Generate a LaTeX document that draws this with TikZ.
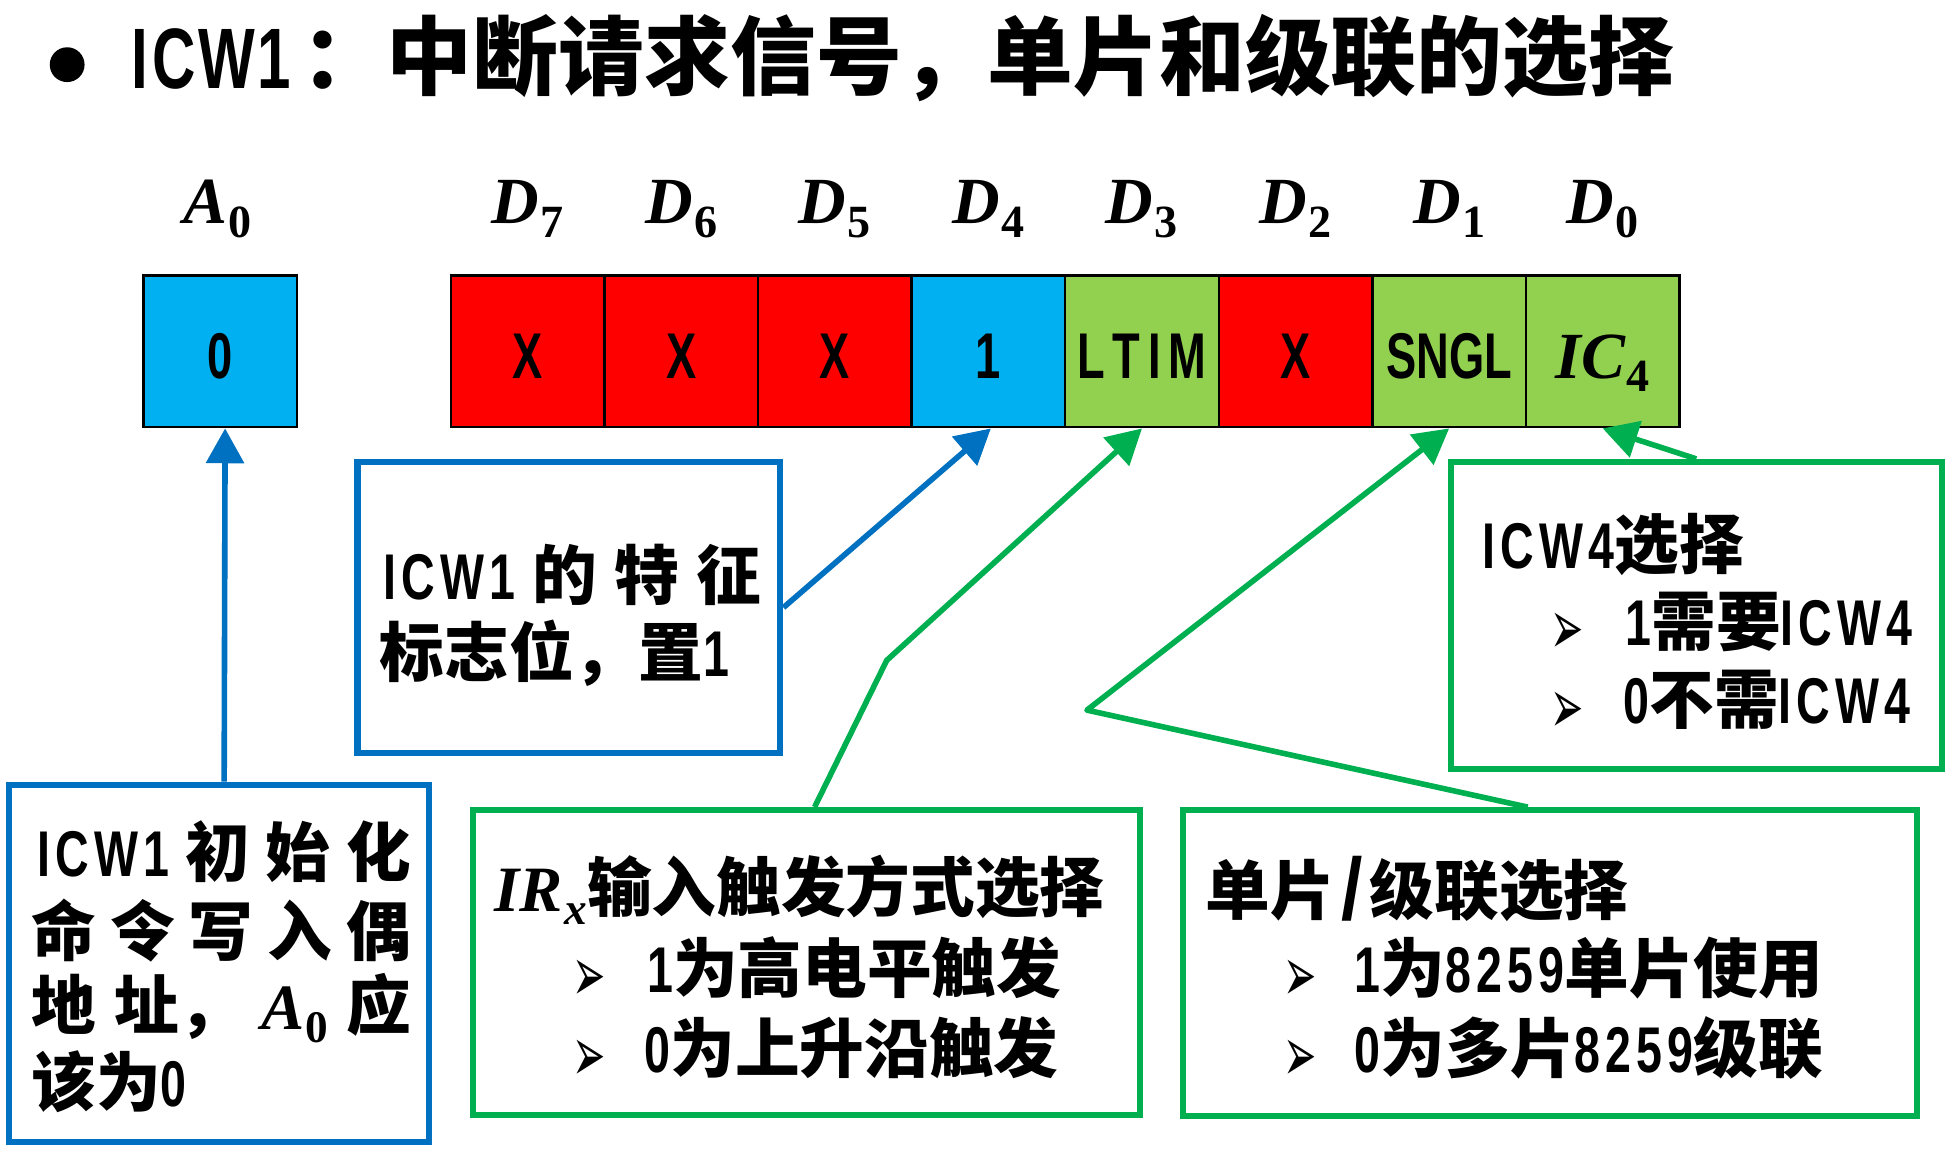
\documentclass[tikz,border=0pt]{standalone}
\usepackage{fontspec}
\usepackage{graphicx}
\setmainfont{Noto Sans CJK SC}
\newfontfamily\cjkf{Noto Sans CJK SC}
\newfontfamily\latf{Liberation Sans}[FakeStretch=0.7]
\newfontfamily\latg{Liberation Sans}[FakeStretch=0.72,LetterSpace=8]
\newfontfamily\serf{Liberation Serif}
\newfontfamily\symf{DejaVu Sans}
\usetikzlibrary{arrows.meta}
\definecolor{cred}{HTML}{FF0000}
\definecolor{ccyan}{HTML}{00B0F0}
\definecolor{clgreen}{HTML}{92D050}
\definecolor{cblue}{HTML}{0070C0}
\definecolor{cgreen}{HTML}{00B050}
\newcommand{\arw}[1]{\makebox[#1][l]{\raisebox{-3.7pt}{\scalebox{1}[1.95]{\symf\mdseries\fontsize{16}{18}\selectfont ➢}}}}
\newcommand{\vs}[2]{{\serf\bfseries\itshape #1}\kern0.02em\raisebox{-0.2em}{\scalebox{0.7}{\serf\bfseries #2}}}
\begin{document}
\begin{tikzpicture}[x=0.5pt,y=-0.5pt,
  cell/.style={draw=black, line width=1pt, minimum width=61.75pt, minimum height=61pt,
    inner sep=0pt, text height=21.5pt, text depth=0pt,
    font=\bfseries\fontsize{26}{30}\selectfont\latf},
  lbl/.style={anchor=base, inner sep=0pt, font=\fontsize{26.5}{30}\selectfont},
  box/.style={draw, line width=2.5pt, fill=white, inner sep=0pt},
  txt/.style={anchor=base west, inner sep=0pt, font=\bfseries\fontsize{26}{31}\selectfont},
  conn/.style={line width=2.25pt, line join=round, -{Triangle[length=14pt,width=15pt]}}]
\path[use as bounding box] (0,0) rectangle (1568,926);

% title
\node[circle, fill=black, minimum size=14pt, inner sep=0pt] (bul) at (54,52) {};
\node[anchor=base west, inner sep=0pt, font=\bfseries\fontsize{34.5}{40}\selectfont] (title) at (105,71)
  {{\latf I\kern2pt C\kern1pt W\kern1pt 1}\hspace{4pt}：\hspace{0pt}中断请求信号，单片和级联的选择};

% A0 cell and register
\node[cell, fill=ccyan] (a0) at (177,282.5) {0};
\node[cell, fill=cred]    (d7) at (424.25,282.5) {X};
\node[cell, fill=cred]    (d6) at (547.75,282.5) {X};
\node[cell, fill=cred]    (d5) at (671.25,282.5) {X};
\node[cell, fill=ccyan]   (d4) at (794.75,282.5) {1};
\node[cell, fill=clgreen] (d3) at (918.25,282.5) {\makebox[52pt][s]{L\hfil T\hfil I\hfil M}};
\node[cell, fill=cred]    (d2) at (1041.75,282.5) {X};
\node[cell, fill=clgreen] (d1) at (1165.25,282.5) {SNGL};
\node[cell, fill=clgreen] (d0) at (1288.75,282.5) {\fontsize{26.5}{30}\selectfont\vs{IC}{4}};

% labels
\node[lbl] (la0) at (175,180) {\vs{A}{0}};
\node[lbl] (ld7) at (424.25,180) {\vs{D}{7}};
\node[lbl] (ld6) at (547.75,180) {\vs{D}{6}};
\node[lbl] (ld5) at (671.25,180) {\vs{D}{5}};
\node[lbl] (ld4) at (794.75,180) {\vs{D}{4}};
\node[lbl] (ld3) at (918.25,180) {\vs{D}{3}};
\node[lbl] (ld2) at (1041.75,180) {\vs{D}{2}};
\node[lbl] (ld1) at (1165.25,180) {\vs{D}{1}};
\node[lbl] (ld0) at (1288.75,180) {\vs{D}{0}};

% boxes
\node[box, draw=cblue, minimum width=170pt, minimum height=117pt] (feat) at (457.5,488.5) {};
\node[box, draw=cblue, minimum width=168.75pt, minimum height=143.75pt] (boxA) at (176.25,774.75) {};
\node[box, draw=cgreen, minimum width=268pt, minimum height=122.5pt] (irx) at (648.5,774) {};
\node[box, draw=cgreen, minimum width=295pt, minimum height=123pt] (sel) at (1246.5,774.5) {};
\node[box, draw=cgreen, minimum width=197.5pt, minimum height=123.5pt] (icw4) at (1364,495) {};

% texts
\node[txt] (f1) at (308,482) {\makebox[152pt][s]{{\latg ICW1}\hfil 的\hfil 特\hfil 征}};
\node[txt] (f2) at (305,544) {标志位，置{\latg 1}};

\node[txt] (a1) at (30,705) {\makebox[150pt][s]{{\latg ICW1}\hfil 初\hfil 始\hfil 化}};
\node[txt] (a2) at (25,768) {\makebox[152.5pt][s]{命\hfil 令\hfil 写\hfil 入\hfil 偶}};
\node[txt] (a3) at (25,828) {\makebox[152.5pt][s]{地\hfil 址，\hfil \vs{A}{0}\hfil 应}};
\node[txt] (a4) at (25,890) {该为{\latg 0}};

\node[txt] (i1) at (397.5,733) {\vs{IR}{\itshape x}输入触发方式选择};
\node[txt] (i2) at (460,798) {\arw{30pt}{\latg 1}为高电平触发};
\node[txt] (i3) at (460,862) {\arw{29pt}{\latg 0}为上升沿触发};

\node[txt] (s1) at (969,735) {单片\makebox[14pt]{\raisebox{-2pt}{\scalebox{1.7}[1.35]{\latf /}}}级联选择};
\node[txt] (s2) at (1031.6,798) {\arw{28.7pt}{\latg 1}为{\latg 8259}单片使用};
\node[txt] (s3) at (1031.6,862) {\arw{28.7pt}{\latg 0}为多片{\latg 8259}级联};

\node[txt] (c1) at (1191.7,457) {{\latg ICW4}选择};
\node[txt] (c2) at (1246,519) {\arw{30.3pt}{\latg 1}需要{\latg ICW4}};
\node[txt] (c3) at (1246,582) {\arw{29.5pt}{\latg 0}不需{\latg ICW4}};

% connectors
\coordinate (bend1) at (713,531);
\coordinate (bend2) at (874,571);
\draw[conn, cblue] ([xshift=2pt]boxA.north) -- ([xshift=2pt]a0.south);
\draw[conn, cblue] (feat.east) -- ([xshift=1pt]d4.south);
\draw[conn, cgreen] ([xshift=3.25pt]irx.north) -- (bend1) -- (d3.south);
\draw[conn, cgreen] ([xshift=-9pt]sel.north) -- (bend2) -- (d1.south);
\draw[conn, cgreen] (icw4.north) -- (d0.south);
\end{tikzpicture}
\end{document}
